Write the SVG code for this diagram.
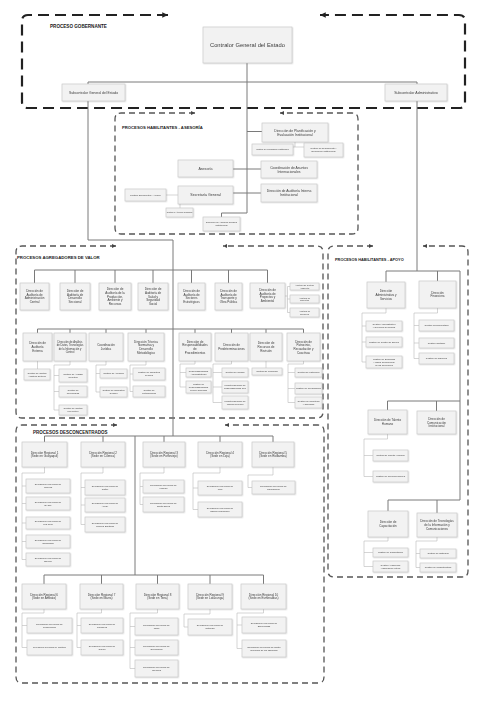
<svg xmlns="http://www.w3.org/2000/svg" width="487" height="728" viewBox="0 0 487 728">
<defs>
<style>
.n rect{fill:#f2f2f2;stroke:#c4c4c4;stroke-width:.6}
.n{filter:url(#sh)}
text{font-family:"Liberation Sans",Arial,sans-serif;fill:#3c3c3c;text-anchor:middle}
.lbl{font-weight:bold;fill:#1a1a1a;text-anchor:start}
.fa{font-size:3.4px}.fb{font-size:3px}.fc{font-size:2.3px}.fd{font-size:2.4px}
.main{fill:none;stroke:#7a7a7a;stroke-width:1}
.sub{fill:none;stroke:#b8b8b8;stroke-width:.6}
.fr1{fill:none;stroke:#222;stroke-width:2.2;stroke-dasharray:11 6}
.fr2{fill:none;stroke:#555;stroke-width:1.3;stroke-dasharray:6 4}
</style>
<filter id="sh" x="-10%" y="-10%" width="130%" height="130%"><feDropShadow dx=".6" dy=".6" stdDeviation=".4" flood-color="#000" flood-opacity=".22"/></filter>
<marker id="a1" viewBox="0 0 10 10" refX="10" refY="5" markerWidth="2.6" markerHeight="2.6" orient="auto-start-reverse"><path d="M0,0L10,5L0,10z" fill="#222"/></marker>
<marker id="a2" viewBox="0 0 10 10" refX="10" refY="5" markerWidth="3.4" markerHeight="3.4" orient="auto-start-reverse"><path d="M0,0L10,5L0,10z" fill="#444"/></marker>
</defs>
<rect width="487" height="728" fill="#fff"/>

<g id="frames">
<path class="fr1" marker-start="url(#a1)" marker-end="url(#a1)" d="M168,15H28Q22,15 22,21V102Q22,108 28,108H459Q465,108 465,102V21Q465,15 459,15H320"/>
<path class="fr2" marker-start="url(#a2)" marker-end="url(#a2)" d="M195,113H121Q115,113 115,119V228Q115,234 121,234H352Q358,234 358,228V119Q358,113 352,113H280"/>
<path class="fr2" marker-start="url(#a2)" marker-end="url(#a2)" d="M116,246H22Q16,246 16,252V412Q16,418 22,418H317Q323,418 323,412V252Q323,246 317,246H223"/>
<path class="fr2" marker-start="url(#a2)" marker-end="url(#a2)" d="M373,246H334Q328,246 328,252V571Q328,577 334,577H462Q468,577 468,571V252Q468,246 462,246H423"/>
<path class="fr2" marker-start="url(#a2)" marker-end="url(#a2)" d="M117,425H22Q16,425 16,431V677Q16,683 22,683H318Q324,683 324,677V431Q324,425 318,425H225"/>
<text class="lbl" x="50" y="28" font-size="4.6">PROCESO GOBERNANTE</text>
<text class="lbl" x="122" y="129" font-size="4.2">PROCESOS HABILITANTES - ASESORÍA</text>
<text class="lbl" x="17" y="259" font-size="4.3">PROCESOS AGREGADORES DE VALOR</text>
<text class="lbl" x="335" y="261" font-size="3.9">PROCESOS HABILITANTES - APOYO</text>
<text class="lbl" x="33" y="434" font-size="4.5">PROCESOS DESCONCENTRADOS</text>
</g>

<g id="connectors">
<path class="main" d="M247,63V213H221.5V217M88,82H417M88,82V240H173V436M417,82V271"/>
<path class="main" d="M247,131.5H262M233,169H261M233,193H261"/>
<path class="sub" d="M295,142V147M272.5,147H323.5M272.5,147V144M323.5,147V143M166,195H178M180,204V208"/>
<path class="main" d="M34.5,270H267.5M34.5,270V283M75,270V283M115,270V283M153,270V283M191.5,270V283M228.5,270V283M267.5,270V283"/>
<path class="main" d="M37.5,329H303.5M37.5,329V333M70,329V333M106,329V333M146,329V333M195,329V333M231.5,329V333M266,329V333M303.5,329V333"/>
<path class="sub" d="M285,296H287.5M287.5,286.5V312.5M287.5,286.5H290M287.5,299H290M287.5,312.5H290"/>
<path class="sub" d="M37.5,361V369M70,361V365H54V410M54,375.5H59M54,391.5H59M54,410H59M106,361V365H96V392M96,373.5H100M96,392H100M146,361V365H130V391.5M130,374H133M130,391.5H133"/>
<path class="sub" d="M195,361V364H180V387M180,372.5H186M180,387H186M231.5,361V364H213V402.5M213,372.5H222M213,387H222M213,402.5H222M266,361V368M303.5,361V364H288V402.5M288,372.5H295M288,388.5H295M288,402.5H295"/>
<path class="main" d="M386,271H460V500M386,271V282M437.5,271V281M387.5,401H460M387.5,401V410M436.5,401V411M388,500H460M388,500V511M437,500V513"/>
<path class="sub" d="M386,308V313H362V362M362,326H366M362,342H366M362,362H366M437.5,308V313H414V358.5M414,325.5H419M414,343H419M414,358.5H419"/>
<path class="sub" d="M387.5,434V439H364V476.5M364,455.5H373M364,476.5H373M388,537V541H364V566.5M364,552.5H373M364,566.5H373M437,537V541H416V567.5M416,553.5H420M416,567.5H420"/>
<path class="main" d="M44.5,436H273M44.5,436V442M103,436V442M164,436V442M220,436V442M273,436V442M135,436V575M44,575H263.5M44,575V584M101.5,575V584M157.5,575V584M210,575V584M263.5,575V584"/>
<path class="sub" d="M44.5,467V473H22V559.5M22,486H26M22,503.5H26M22,523H26M22,541.5H26M22,559.5H26M103,467V473H81V524.5M81,487.5H85M81,505H85M81,524.5H85M164,467V473H140V504.5M140,486.5H143M140,504.5H143M220,467V473H193V509.5M193,488H198M193,509.5H198M273,467V475H248V487.5H252"/>
<path class="sub" d="M44,609V613H22V647.5M22,625.5H27M22,647.5H27M101.5,609V613H77V647.5M77,625.5H81M77,647.5H81M157.5,609V613H130V668.5M130,626.5H135M130,647.5H135M130,668.5H135M210,609V614H184V627H188M263.5,609V613H237V648.5M237,625H242M237,648.5H242"/>
</g>

<g id="contralor" class="n"><rect x="203" y="27" width="89" height="36"/><text x="247.5" y="47" font-size="5.8">Contralor General del Estado</text></g>
<g id="subcontralor-general" class="n"><rect x="62" y="84" width="63" height="17"/><text x="93.5" y="93.7" font-size="3.4">Subcontralor General del Estado</text></g>
<g id="subcontralor-administrativo" class="n"><rect x="385" y="84" width="62" height="17"/><text x="416" y="93.8" font-size="3.6">Subcontralor Administrativo</text></g>

<g id="dir-planificacion" class="n"><rect x="262" y="123" width="66" height="19"/><text class="fa" x="295" y="131.6">Dirección de Planificación y<tspan x="295" dy="4.2">Evaluación Institucional</tspan></text></g>
<g id="gest-planificacion" class="n"><rect x="252" y="144" width="41" height="11"/><text x="272.5" y="150.2" font-size="2">Gestión de Planificación Institucional</text></g>
<g id="gest-seguimiento" class="n"><rect x="304" y="143" width="39" height="14"/><text class="fc" x="323.5" y="149.4">Gestión de Seguimiento y<tspan x="323.5" dy="2.8">Evaluación Institucional</tspan></text></g>
<g id="asesoria" class="n"><rect x="178" y="160" width="55" height="17"/><text x="205.5" y="169.8" font-size="3.6">Asesoría</text></g>
<g id="coord-internacionales" class="n"><rect x="261" y="161" width="56" height="17"/><text class="fa" x="289" y="168.6">Coordinación de Asuntos<tspan x="289" dy="4.2">Internacionales</tspan></text></g>
<g id="secretaria" class="n"><rect x="178" y="186" width="55" height="18"/><text x="205.5" y="196.3" font-size="3.6">Secretaría General</text></g>
<g id="dir-auditoria-interna" class="n"><rect x="261" y="184" width="56" height="18"/><text class="fa" x="289" y="192.1">Dirección de Auditoría Interna<tspan x="289" dy="4.2">Institucional</tspan></text></g>
<g id="gest-documental" class="n"><rect x="125" y="189" width="41" height="12"/><text class="fc" x="145.5" y="195.8">Gestión Documental y Archivo</text></g>
<g id="gest-atencion" class="n"><rect x="166" y="208" width="27" height="9"/><text x="179.5" y="213.1" font-size="1.8">Gestión de Atención Ciudadana</text></g>
<g id="dir-juridica" class="n"><rect x="203" y="217" width="37" height="14"/><text class="fc" x="221.5" y="223.4">Dirección de Asesoría Jurídica<tspan x="221.5" dy="2.8">Institucional</tspan></text></g>

<g id="b1" class="n"><rect x="20" y="283" width="29" height="27"/><text class="fb" x="34.5" y="292">Dirección de<tspan x="34.5" dy="3.7">Auditoría de</tspan><tspan x="34.5" dy="3.7">Administración</tspan><tspan x="34.5" dy="3.7">Central</tspan></text></g>
<g id="b2" class="n"><rect x="60" y="283" width="30" height="27"/><text class="fb" x="75" y="292">Dirección de<tspan x="75" dy="3.7">Auditoría de</tspan><tspan x="75" dy="3.7">Desarrollo</tspan><tspan x="75" dy="3.7">Seccional</tspan></text></g>
<g id="b3" class="n"><rect x="99" y="283" width="32" height="27"/><text class="fb" x="115" y="290.2">Dirección de<tspan x="115" dy="3.7">Auditoría de la</tspan><tspan x="115" dy="3.7">Producción,</tspan><tspan x="115" dy="3.7">Ambiente y</tspan><tspan x="115" dy="3.7">Recursos</tspan></text></g>
<g id="b4" class="n"><rect x="138" y="283" width="30" height="27"/><text class="fb" x="153" y="290.2">Dirección de<tspan x="153" dy="3.7">Auditoría de</tspan><tspan x="153" dy="3.7">Salud y</tspan><tspan x="153" dy="3.7">Seguridad</tspan><tspan x="153" dy="3.7">Social</tspan></text></g>
<g id="b5" class="n"><rect x="178" y="283" width="27" height="27"/><text class="fb" x="191.5" y="292">Dirección de<tspan x="191.5" dy="3.7">Auditoría de</tspan><tspan x="191.5" dy="3.7">Sectores</tspan><tspan x="191.5" dy="3.7">Estratégicos</tspan></text></g>
<g id="b6" class="n"><rect x="215" y="283" width="27" height="27"/><text class="fb" x="228.5" y="292">Dirección de<tspan x="228.5" dy="3.7">Auditoría de</tspan><tspan x="228.5" dy="3.7">Transporte y</tspan><tspan x="228.5" dy="3.7">Obra Pública</tspan></text></g>
<g id="b7" class="n"><rect x="250" y="283" width="35" height="25"/><text class="fb" x="267.5" y="291">Dirección de<tspan x="267.5" dy="3.7">Auditoría de</tspan><tspan x="267.5" dy="3.7">Proyectos y</tspan><tspan x="267.5" dy="3.7">Ambiental</tspan></text></g>
<g id="b7-s1" class="n"><rect x="290" y="283" width="29" height="7"/><text x="304.5" y="286" font-size="2.1">Auditoría de Gestión<tspan x="304.5" dy="2.5">Ambiental</tspan></text></g>
<g id="b7-s2" class="n"><rect x="290" y="295" width="29" height="8"/><text x="304.5" y="298.5" font-size="2.1">Auditoría de<tspan x="304.5" dy="2.5">Proyectos</tspan></text></g>
<g id="b7-s3" class="n"><rect x="290" y="308" width="29" height="9"/><text x="304.5" y="312" font-size="2.1">Auditoría de<tspan x="304.5" dy="2.5">Ingeniería</tspan></text></g>

<g id="c1" class="n"><rect x="23" y="333" width="29" height="28"/><text class="fb" x="37.5" y="344.4">Dirección de<tspan x="37.5" dy="3.7">Auditoría</tspan><tspan x="37.5" dy="3.7">Externa</tspan></text></g>
<g id="c2" class="n"><rect x="54" y="333" width="32" height="28"/><text x="70" y="343" font-size="2.7">Dirección de Análisis<tspan x="70" dy="3.3">de Datos, Tecnologías</tspan><tspan x="70" dy="3.3">de la Información y</tspan><tspan x="70" dy="3.3">Control</tspan></text></g>
<g id="c3" class="n"><rect x="89" y="333" width="34" height="28"/><text class="fb" x="106" y="346.2">Coordinación<tspan x="106" dy="3.7">Jurídica</tspan></text></g>
<g id="c4" class="n"><rect x="128" y="333" width="36" height="28"/><text class="fb" x="146" y="342.5">Dirección Técnica<tspan x="146" dy="3.7">Normativa y</tspan><tspan x="146" dy="3.7">Desarrollo</tspan><tspan x="146" dy="3.7">Metodológico</tspan></text></g>
<g id="c5" class="n"><rect x="179" y="333" width="32" height="28"/><text class="fb" x="195" y="342.5">Dirección de<tspan x="195" dy="3.7">Responsabilidades</tspan><tspan x="195" dy="3.7">de</tspan><tspan x="195" dy="3.7">Procedimientos</tspan></text></g>
<g id="c6" class="n"><rect x="215" y="333" width="33" height="28"/><text class="fb" x="231.5" y="346.2">Dirección de<tspan x="231.5" dy="3.7">Predeterminaciones</tspan></text></g>
<g id="c7" class="n"><rect x="250" y="333" width="32" height="28"/><text class="fb" x="266" y="344.4">Dirección de<tspan x="266" dy="3.7">Recursos de</tspan><tspan x="266" dy="3.7">Revisión</tspan></text></g>
<g id="c8" class="n"><rect x="287" y="333" width="33" height="28"/><text class="fb" x="303.5" y="342.5">Dirección de<tspan x="303.5" dy="3.7">Patrocinio,</tspan><tspan x="303.5" dy="3.7">Recaudación y</tspan><tspan x="303.5" dy="3.7">Coactivas</tspan></text></g>

<g id="c1-s1" class="n"><rect x="24" y="369" width="26" height="11"/><text class="fc" x="37" y="373.9">Gestión de Control<tspan x="37" dy="2.8">Auditoría Externa</tspan></text></g>
<g id="c2-s1" class="n"><rect x="59" y="369" width="28" height="13"/><text class="fc" x="73" y="374.9">Gestión de Análisis<tspan x="73" dy="2.8">de Datos</tspan></text></g>
<g id="c2-s2" class="n"><rect x="59" y="386" width="28" height="11"/><text class="fc" x="73" y="390.9">Gestión de<tspan x="73" dy="2.8">Tecnologías</tspan></text></g>
<g id="c2-s3" class="n"><rect x="59" y="405" width="28" height="10"/><text class="fc" x="73" y="409.4">Gestión de Control<tspan x="73" dy="2.8">Preventivo</tspan></text></g>
<g id="c3-s1" class="n"><rect x="100" y="369" width="27" height="9"/><text class="fc" x="113.5" y="374.3">Gestión de Asesoría</text></g>
<g id="c3-s2" class="n"><rect x="100" y="387" width="27" height="10"/><text class="fc" x="113.5" y="391.4">Gestión de Normativa<tspan x="113.5" dy="2.8">Jurídica</tspan></text></g>
<g id="c4-s1" class="n"><rect x="133" y="368" width="32" height="12"/><text class="fc" x="149" y="373.4">Gestión de Normativa<tspan x="149" dy="2.8">Técnica</tspan></text></g>
<g id="c4-s2" class="n"><rect x="133" y="386" width="32" height="11"/><text class="fc" x="149" y="390.9">Gestión de<tspan x="149" dy="2.8">Metodologías</tspan></text></g>
<g id="c5-s1" class="n"><rect x="186" y="368" width="25" height="9"/><text class="fc" x="198.5" y="371.9">Responsabilidades<tspan x="198.5" dy="2.8">Administrativas</tspan></text></g>
<g id="c5-s2" class="n"><rect x="186" y="381" width="25" height="12"/><text class="fc" x="198.5" y="385">Gestión de<tspan x="198.5" dy="2.8">Responsabilidades</tspan><tspan x="198.5" dy="2.8">Civiles Culposas</tspan></text></g>
<g id="c6-s1" class="n"><rect x="222" y="368" width="26" height="9"/><text class="fc" x="235" y="373.3">Gestión de Glosas</text></g>
<g id="c6-s2" class="n"><rect x="222" y="381" width="26" height="12"/><text class="fc" x="235" y="386.4">Predeterminación de<tspan x="235" dy="2.8">Responsabilidad Civil</tspan></text></g>
<g id="c6-s3" class="n"><rect x="222" y="396" width="26" height="13"/><text class="fc" x="235" y="401.9">Predeterminación de<tspan x="235" dy="2.8">Indicios Penales</tspan></text></g>
<g id="c7-s1" class="n"><rect x="252" y="368" width="30" height="7"/><text class="fc" x="267" y="372.3">Gestión de Recursos</text></g>
<g id="c8-s1" class="n"><rect x="295" y="368" width="27" height="9"/><text class="fc" x="308.5" y="373.3">Gestión de Patrocinio</text></g>
<g id="c8-s2" class="n"><rect x="295" y="383" width="27" height="11"/><text class="fc" x="308.5" y="389.3">Gestión de Recaudación</text></g>
<g id="c8-s3" class="n"><rect x="295" y="397" width="27" height="11"/><text class="fc" x="308.5" y="401.9">Gestión de Coactivas<tspan x="308.5" dy="2.8">y Cobranza</tspan></text></g>

<g id="a1-dir-administrativa" class="n"><rect x="367" y="282" width="38" height="26"/><text class="fb" x="386" y="292.4">Dirección<tspan x="386" dy="3.7">Administrativa y</tspan><tspan x="386" dy="3.7">Servicios</tspan></text></g>
<g id="a2-dir-financiera" class="n"><rect x="419" y="281" width="37" height="27"/><text class="fb" x="437.5" y="293.7">Dirección<tspan x="437.5" dy="3.7">Financiera</tspan></text></g>
<g id="a1-s1" class="n"><rect x="366" y="321" width="36" height="10"/><text class="fc" x="384" y="325.4">Gestión Administrativa<tspan x="384" dy="2.8">y Servicios Generales</tspan></text></g>
<g id="a1-s2" class="n"><rect x="366" y="337" width="36" height="10"/><text class="fc" x="384" y="342.8">Gestión de Control de Bienes</text></g>
<g id="a1-s3" class="n"><rect x="366" y="356" width="36" height="12"/><text class="fc" x="384" y="360">Gestión de Seguridad<tspan x="384" dy="2.8">y Salud Ocupacional</tspan><tspan x="384" dy="2.8">de los Servidores</tspan></text></g>
<g id="a2-s1" class="n"><rect x="419" y="320" width="35" height="11"/><text class="fc" x="436.5" y="326.3">Gestión Presupuestaria</text></g>
<g id="a2-s2" class="n"><rect x="419" y="338" width="35" height="10"/><text class="fc" x="436.5" y="343.8">Gestión Contable</text></g>
<g id="a2-s3" class="n"><rect x="419" y="353" width="35" height="11"/><text class="fc" x="436.5" y="359.3">Gestión de Tesorería</text></g>
<g id="a3-dir-talento" class="n"><rect x="368" y="410" width="39" height="24"/><text class="fb" x="387.5" y="421.2">Dirección de Talento<tspan x="387.5" dy="3.7">Humano</tspan></text></g>
<g id="a4-dir-comunicacion" class="n"><rect x="417" y="411" width="39" height="23"/><text class="fb" x="436.5" y="419.9">Dirección de<tspan x="436.5" dy="3.7">Comunicación</tspan><tspan x="436.5" dy="3.7">Institucional</tspan></text></g>
<g id="a3-s1" class="n"><rect x="373" y="450" width="35" height="11"/><text class="fc" x="390.5" y="456.3">Gestión de Talento Humano</text></g>
<g id="a3-s2" class="n"><rect x="373" y="471" width="35" height="11"/><text class="fc" x="390.5" y="477.3">Gestión de Remuneraciones</text></g>
<g id="a5-dir-capacitacion" class="n"><rect x="368" y="511" width="40" height="26"/><text class="fb" x="388" y="523.2">Dirección de<tspan x="388" dy="3.7">Capacitación</tspan></text></g>
<g id="a6-dir-tecnologias" class="n"><rect x="417" y="513" width="40" height="24"/><text class="fb" x="437" y="522.4">Dirección de Tecnologías<tspan x="437" dy="3.7">de la Información y</tspan><tspan x="437" dy="3.7">Comunicaciones</tspan></text></g>
<g id="a5-s1" class="n"><rect x="373" y="548" width="35" height="9"/><text class="fc" x="390.5" y="553.3">Gestión de Capacitación</text></g>
<g id="a5-s2" class="n"><rect x="373" y="561" width="35" height="11"/><text class="fc" x="390.5" y="565.9">Gestión Académica<tspan x="390.5" dy="2.8">y Educación Virtual</tspan></text></g>
<g id="a6-s1" class="n"><rect x="420" y="549" width="36" height="9"/><text class="fc" x="438" y="554.3">Gestión de Sistemas</text></g>
<g id="a6-s2" class="n"><rect x="420" y="563" width="36" height="9"/><text class="fc" x="438" y="568.3">Gestión de Infraestructura</text></g>

<g id="r1" class="n"><rect x="22" y="442" width="45" height="25"/><text class="fb" x="44.5" y="453.7">Dirección Regional 1<tspan x="44.5" dy="3.7">(Sede en Guayaquil)</tspan></text></g>
<g id="r2" class="n"><rect x="81" y="442" width="44" height="25"/><text class="fb" x="103" y="453.7">Dirección Regional 2<tspan x="103" dy="3.7">(Sede en Cuenca)</tspan></text></g>
<g id="r3" class="n"><rect x="143" y="442" width="42" height="25"/><text class="fb" x="164" y="453.7">Dirección Regional 3<tspan x="164" dy="3.7">(Sede en Portoviejo)</tspan></text></g>
<g id="r4" class="n"><rect x="198" y="442" width="44" height="25"/><text class="fb" x="220" y="453.7">Dirección Regional 4<tspan x="220" dy="3.7">(Sede en Loja)</tspan></text></g>
<g id="r5" class="n"><rect x="252" y="442" width="42" height="25"/><text class="fb" x="273" y="453.7">Dirección Regional 5<tspan x="273" dy="3.7">(Sede en Riobamba)</tspan></text></g>

<g id="r1-s1" class="n"><rect x="26" y="479" width="44" height="14"/><text class="fd" x="48" y="485.3">Delegación Provincial de<tspan x="48" dy="3">Guayas</tspan></text></g>
<g id="r1-s2" class="n"><rect x="26" y="497" width="44" height="13"/><text class="fd" x="48" y="502.8">Delegación Provincial de<tspan x="48" dy="3">El Oro</tspan></text></g>
<g id="r1-s3" class="n"><rect x="26" y="517" width="44" height="12"/><text class="fd" x="48" y="522.3">Delegación Provincial de<tspan x="48" dy="3">Los Ríos</tspan></text></g>
<g id="r1-s4" class="n"><rect x="26" y="535" width="44" height="13"/><text class="fd" x="48" y="540.8">Delegación Provincial de<tspan x="48" dy="3">Galápagos</tspan></text></g>
<g id="r1-s5" class="n"><rect x="26" y="553" width="44" height="13"/><text class="fd" x="48" y="558.8">Delegación Provincial de<tspan x="48" dy="3">Bolívar</tspan></text></g>
<g id="r2-s1" class="n"><rect x="85" y="480" width="40" height="15"/><text class="fd" x="105" y="486.8">Delegación Provincial de<tspan x="105" dy="3">Cañar</tspan></text></g>
<g id="r2-s2" class="n"><rect x="85" y="498" width="40" height="14"/><text class="fd" x="105" y="504.3">Delegación Provincial de<tspan x="105" dy="3">Azuay</tspan></text></g>
<g id="r2-s3" class="n"><rect x="85" y="517" width="40" height="15"/><text class="fd" x="105" y="523.8">Delegación Provincial de<tspan x="105" dy="3">Morona Santiago</tspan></text></g>
<g id="r3-s1" class="n"><rect x="143" y="480" width="41" height="13"/><text class="fd" x="163.5" y="485.8">Delegación Provincial de<tspan x="163.5" dy="3">Manabí</tspan></text></g>
<g id="r3-s2" class="n"><rect x="143" y="497" width="41" height="15"/><text class="fd" x="163.5" y="503.8">Delegación Provincial de<tspan x="163.5" dy="3">Santa Elena</tspan></text></g>
<g id="r4-s1" class="n"><rect x="198" y="481" width="44" height="14"/><text class="fd" x="220" y="487.3">Delegación Provincial de<tspan x="220" dy="3">Loja</tspan></text></g>
<g id="r4-s2" class="n"><rect x="198" y="502" width="44" height="15"/><text class="fd" x="220" y="508.8">Delegación Provincial de<tspan x="220" dy="3">Zamora Chinchipe</tspan></text></g>
<g id="r5-s1" class="n"><rect x="252" y="481" width="43" height="13"/><text class="fd" x="273.5" y="486.8">Delegación Provincial de<tspan x="273.5" dy="3">Chimborazo</tspan></text></g>

<g id="r6" class="n"><rect x="22" y="584" width="44" height="25"/><text class="fb" x="44" y="595.7">Dirección Regional 6<tspan x="44" dy="3.7">(Sede en Ambato)</tspan></text></g>
<g id="r7" class="n"><rect x="80" y="584" width="43" height="25"/><text class="fb" x="101.5" y="595.7">Dirección Regional 7<tspan x="101.5" dy="3.7">(Sede en Ibarra)</tspan></text></g>
<g id="r8" class="n"><rect x="136" y="584" width="43" height="25"/><text class="fb" x="157.5" y="595.7">Dirección Regional 8<tspan x="157.5" dy="3.7">(Sede en Tena)</tspan></text></g>
<g id="r9" class="n"><rect x="188" y="584" width="44" height="25"/><text class="fb" x="210" y="595.7">Dirección Regional 9<tspan x="210" dy="3.7">(Sede en Latacunga)</tspan></text></g>
<g id="r10" class="n"><rect x="241" y="584" width="45" height="25"/><text class="fb" x="263.5" y="595.7">Dirección Regional 10<tspan x="263.5" dy="3.7">(Sede en Esmeraldas)</tspan></text></g>

<g id="r6-s1" class="n"><rect x="27" y="618" width="45" height="15"/><text class="fd" x="49.5" y="624.8">Delegación Provincial de<tspan x="49.5" dy="3">Tungurahua</tspan></text></g>
<g id="r6-s2" class="n"><rect x="27" y="640" width="45" height="15"/><text x="49.5" y="648.3" font-size="2.2">Delegación Provincial de Pastaza</text></g>
<g id="r7-s1" class="n"><rect x="81" y="618" width="42" height="15"/><text class="fd" x="102" y="624.8">Delegación Provincial de<tspan x="102" dy="3">Imbabura</tspan></text></g>
<g id="r7-s2" class="n"><rect x="81" y="640" width="42" height="15"/><text class="fd" x="102" y="646.8">Delegación Provincial de<tspan x="102" dy="3">Carchi</tspan></text></g>
<g id="r8-s1" class="n"><rect x="135" y="618" width="43" height="17"/><text class="fd" x="156.5" y="625.8">Delegación Provincial de<tspan x="156.5" dy="3">Napo</tspan></text></g>
<g id="r8-s2" class="n"><rect x="135" y="640" width="43" height="15"/><text class="fd" x="156.5" y="646.8">Delegación Provincial de<tspan x="156.5" dy="3">Sucumbíos</tspan></text></g>
<g id="r8-s3" class="n"><rect x="135" y="660" width="43" height="17"/><text class="fd" x="156.5" y="667.8">Delegación Provincial de<tspan x="156.5" dy="3">Orellana</tspan></text></g>
<g id="r9-s1" class="n"><rect x="188" y="619" width="44" height="16"/><text class="fd" x="210" y="626.3">Delegación Provincial de<tspan x="210" dy="3">Cotopaxi</tspan></text></g>
<g id="r10-s1" class="n"><rect x="242" y="617" width="44" height="16"/><text class="fd" x="264" y="624.3">Delegación Provincial de<tspan x="264" dy="3">Esmeraldas</tspan></text></g>
<g id="r10-s2" class="n"><rect x="242" y="640" width="44" height="17"/><text class="fd" x="264" y="647.8">Delegación Provincial de Santo<tspan x="264" dy="3">Domingo de los Tsáchilas</tspan></text></g>
</svg>
